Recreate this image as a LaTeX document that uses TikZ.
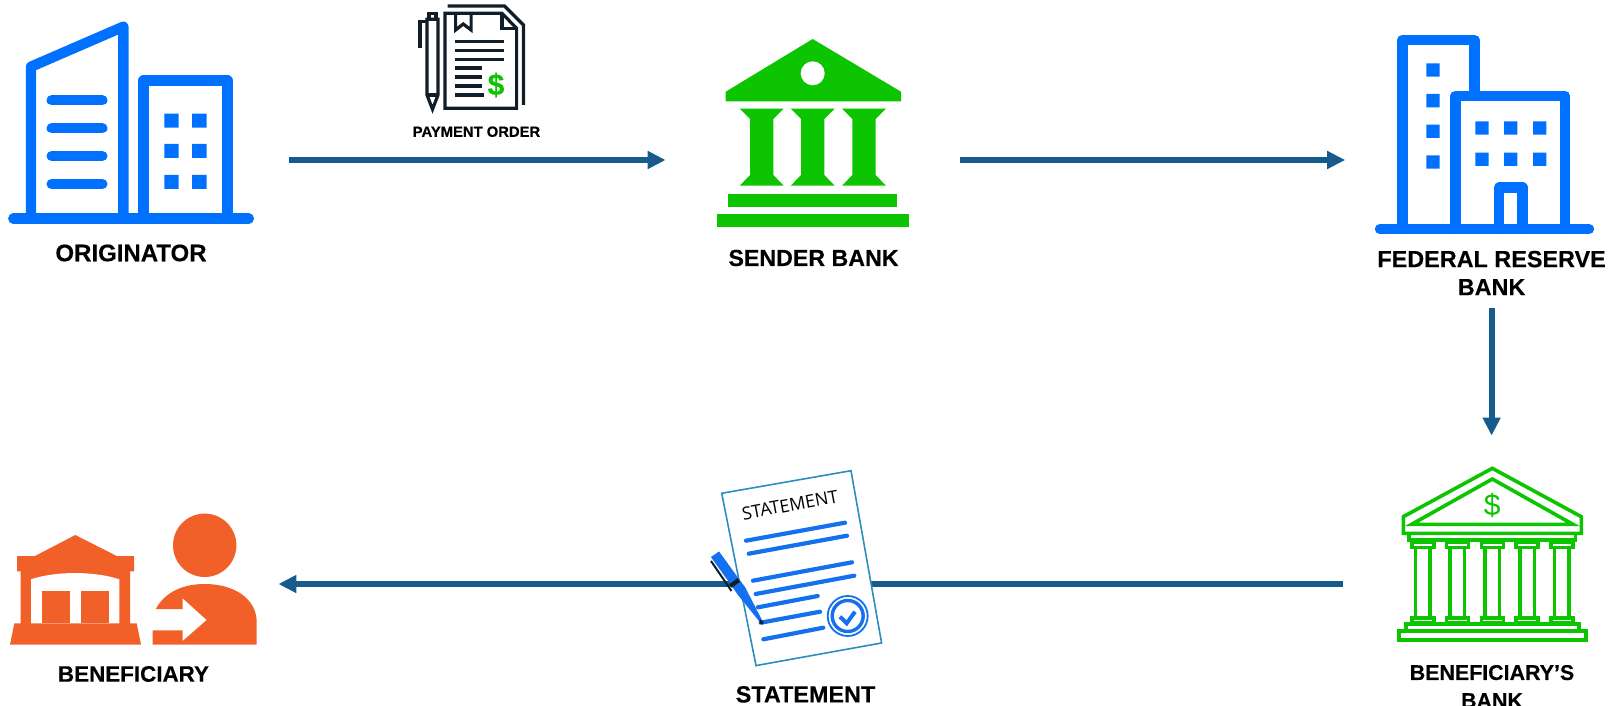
\documentclass[tikz,border=0pt]{standalone}
\usepackage{fontspec}
\setmainfont{Liberation Sans}[BoldFeatures={FakeBold=0.3}]
\newfontfamily\paperfont{Open Sans}
\usetikzlibrary{arrows.meta}
\definecolor{bldgblue}{HTML}{0070FF}
\definecolor{bankgreen}{HTML}{0CC400}
\definecolor{arrowblue}{HTML}{175A8C}
\definecolor{benorange}{HTML}{F26029}
\definecolor{inkdark}{HTML}{0F1E28}
\definecolor{paperedge}{HTML}{2A8FBF}
\definecolor{paperline}{HTML}{1470EE}
\begin{document}
\begin{tikzpicture}
		[x=0.5pt,y=-0.5pt,
		hub/.style ={inner sep=0pt, minimum width=#1, minimum height=148pt},
		link/.style ={draw=arrowblue, line width=3pt, -{Triangle[length=9pt,width=8.5pt]}},
		biglabel/.style ={font=\bfseries\fontsize{#1}{14}\selectfont, text=black, align=center, inner sep=0pt},
		smalllabel/.style ={font=\bfseries\fontsize{7.4}{8}\selectfont, text=black, inner sep=0pt},
		bldg/.style ={draw=bldgblue, line width=5.2pt, line join=round, line cap=round},
		ink/.style ={draw=inkdark, line width=1.6pt},
		outline/.style ={draw=bankgreen, line width=1.8pt},
		sheet/.style ={draw=paperline, line width=2.1pt, line cap=round},
		dollar/.style ={font=\fontsize{15}{15}\selectfont, text=bankgreen, inner sep=0pt},
		]
		\useasboundingbox (0,0) rectangle (1613,706);

		\node[hub=158pt] (originator) at (131,160) {};
		\node[hub=147pt] (sender) at (813,160) {};
		\node[hub=146pt] (federal) at (1491.6,160) {};
		\node[hub=148pt] (benbank) at (1491.6,584) {};
		\node[hub=146pt] (beneficiary) at (132,584) {};

		\draw[link] (originator) -- (sender);
		\draw[link] (sender) -- (federal);
		\draw[link] (federal) -- (benbank);
		\draw[link] (benbank) -- (beneficiary);

		\draw[bldg] (13.3,218.7) -- (248.8,218.7);
		\draw[bldg] (31,218.7) -- (31,66.7) -- (123.3,26.7) -- (123.3,218.7);
		\draw[bldg] (143.6,218.7) -- (143.6,80.7) -- (227.3,80.7) -- (227.3,218.7);
		\draw[bldg] (51.7,100.3) -- (102.3,100.3);
		\draw[bldg] (51.7,128.3) -- (102.3,128.3);
		\draw[bldg] (51.7,156) -- (102.3,156);
		\draw[bldg] (51.7,184) -- (102.3,184);
		\fill[bldgblue] (164.3,113.7) rectangle (178.7,127.7) (192.2,113.7) rectangle (206.6,127.7);
		\fill[bldgblue] (164.3,144) rectangle (178.7,158) (192.2,144) rectangle (206.6,158);
		\fill[bldgblue] (164.3,175) rectangle (178.7,189) (192.2,175) rectangle (206.6,189);
		\node[biglabel=12] (originatorlabel) at (131,253) {ORIGINATOR};

		\draw[ink] (445,108.3) -- (445,13.3) -- (502,13.3) -- (516.6,28.3) -- (516.6,108.3) -- cycle;
		\draw[ink] (502,13.3) -- (502,28.3) -- (516.6,28.3);
		\draw[ink] (447.7,6) -- (504.5,6) -- (523.5,25) -- (523.5,105);
		\draw[ink] (455.6,13.3) -- (455.6,30) -- (463.2,24) -- (471.1,30) -- (471.1,13.3);
		\draw[ink] (454.6,41.3) -- (503.8,41.3);
		\draw[ink] (454.6,50.3) -- (503.8,50.3);
		\draw[ink] (454.6,59.3) -- (503.8,59.3);
		\draw[ink] (454.6,68) -- (482,68);
		\draw[ink] (454.6,77) -- (482,77);
		\draw[ink] (454.6,86) -- (482,86);
		\draw[ink] (454.6,95) -- (484,95);
		\node[dollar, font=\bfseries\fontsize{15}{15}\selectfont] (orderdollar) at (496,85) {\$};
		\draw[ink] (427,19.3) -- (438,19.3) -- (438,95) -- (432.5,109.3) -- (427,95) -- cycle;
		\draw[ink] (429,19.3) -- (429,13.3) -- (436,13.3) -- (436,19.3);
		\draw[ink] (427,95) -- (438,95);
		\draw[ink] (427,21.7) -- (420,21.7) -- (420,48.3);
		\node[smalllabel] (orderlabel) at (476.5,131.7) {PAYMENT ORDER};

		\fill[bankgreen] (725.7,101.3) -- (725.7,91.7) -- (812.7,39) -- (901,91.7) -- (901,101.3) -- cycle;
		\fill[white] (812.7,73.3) circle (12);
		\fill[bankgreen] (739.7,108.7) -- (783.7,108.7) -- (773.4,119) -- (773.4,175) -- (783.7,185.7) -- (739.7,185.7) -- (750,175) -- (750,119) -- cycle;
		\fill[bankgreen] (790.7,108.7) -- (834.7,108.7) -- (824.4,119) -- (824.4,175) -- (834.7,185.7) -- (790.7,185.7) -- (801,175) -- (801,119) -- cycle;
		\fill[bankgreen] (842,108.7) -- (886,108.7) -- (875.7,119) -- (875.7,175) -- (886,185.7) -- (842,185.7) -- (852.3,175) -- (852.3,119) -- cycle;
		\fill[bankgreen] (728,194) rectangle (897.3,206.7);
		\fill[bankgreen] (716.7,214) rectangle (908.7,226.7);
		\node[biglabel=11.6] (senderlabel) at (813.5,258) {SENDER BANK};

		\draw[bldg] (1380,229) -- (1589,229);
		\draw[bldg] (1402.3,229) -- (1402.3,40) -- (1474.3,40) -- (1474.3,96);
		\draw[bldg] (1455.3,229) -- (1455.3,96) -- (1565,96) -- (1565,229);
		\draw[bldg] (1499,229) -- (1499,187.7) -- (1522.3,187.7) -- (1522.3,229);
		\fill[bldgblue] (1426.3,63.3) rectangle (1439.7,76.7) (1426.3,94) rectangle (1439.7,107.3);
		\fill[bldgblue] (1426.3,124.7) rectangle (1439.7,138) (1426.3,155.3) rectangle (1439.7,168.7);
		\fill[bldgblue] (1475.3,121.3) rectangle (1488.7,134.7) (1504,121.3) rectangle (1517.3,134.7) (1533,121.3) rectangle (1546.3,134.7);
		\fill[bldgblue] (1475.3,152.7) rectangle (1488.7,166) (1504,152.7) rectangle (1517.3,166) (1533,152.7) rectangle (1546.3,166);
		\node[biglabel=11.7] (federallabel) at (1491.6,273) {FEDERAL RESERVE\\BANK};

		\draw[outline] (1403.3,533.3) -- (1403.3,516.7) -- (1492.3,468.3) -- (1581.3,516.7) -- (1581.3,533.3) -- cycle;
		\draw[outline] (1411.7,524.3) -- (1492.3,479) -- (1572.9,524.3) -- cycle;
		\draw[outline] (1409,533.3) rectangle (1575.6,540);
		\draw[outline] (1411.7,542.3) rectangle (1433.7,547.3) (1415.4,547.3) rectangle (1430,617.7) (1411.7,617.7) rectangle (1433.7,623);
		\draw[outline] (1446.3,542.3) rectangle (1468.3,547.3) (1450,547.3) rectangle (1464.6,617.7) (1446.3,617.7) rectangle (1468.3,623);
		\draw[outline] (1481.3,542.3) rectangle (1503.3,547.3) (1485,547.3) rectangle (1499.6,617.7) (1481.3,617.7) rectangle (1503.3,623);
		\draw[outline] (1516,542.3) rectangle (1538,547.3) (1519.7,547.3) rectangle (1534.3,617.7) (1516,617.7) rectangle (1538,623);
		\draw[outline] (1550.7,542.3) rectangle (1572.7,547.3) (1554.4,547.3) rectangle (1569,617.7) (1550.7,617.7) rectangle (1572.7,623);
		\draw[outline] (1405.7,624) rectangle (1578.9,630.7);
		\draw[outline] (1398.7,631) rectangle (1585.9,640);
		\node[dollar] (bankdollar) at (1492.3,505.7) {\$};
		\node[biglabel=10.7] (benbanklabel) at (1492,686.5) {BENEFICIARY’S\\BANK};

		\draw[draw=paperedge, fill=white, line width=.8pt] (721.7,493.3) -- (851,470.7) -- (881.6,643) -- (756,665.6) -- cycle;
		\node[font=\paperfont\fontsize{8.9}{10}\selectfont, text=black, rotate=10.5, inner sep=0pt] (papertitle) at (790,505) {STATEMENT};
		\draw[sheet] (746,540.7) -- (845,522.7);
		\draw[sheet] (748.7,553.7) -- (847,535.7);
		\draw[sheet] (753,580.7) -- (852,562.3);
		\draw[sheet] (755.7,594) -- (854.3,575.7);
		\draw[sheet] (758,607.3) -- (817.7,596);
		\draw[sheet] (760.7,622.7) -- (820,611.7);
		\draw[sheet] (763.3,639.3) -- (823.3,627.7);
		\draw[paperline, line width=.9pt] (847.7,616) circle (20);
		\draw[paperline, line width=1.7pt] (847.7,616) circle (15.5);
		\draw[paperline, line width=2pt] (840,616.7) -- (846.7,623.3) -- (855,611.7);
		\draw[inkdark, line width=1pt] (711,561) -- (731.5,591);
		\fill[paperline] (710.9,557) -- (719.1,551.5) -- (739.1,579.2) -- (745,587) -- (763,622) -- (761,623.5) -- (738,595) -- (730.9,584.8) -- cycle;
		\draw[inkdark, line width=2.2pt] (730.5,586) -- (738.8,580);
		\fill[inkdark] (759.5,619.5) -- (763.5,621.5) -- (763,624.5) -- (759.5,623.5) -- cycle;
		\node[biglabel=11.7] (statementlabel) at (805.5,694.4) {STATEMENT};

		\fill[benorange] (35,556) -- (75.3,535) -- (116.7,556) -- (134,556) -- (134,571.3) -- (130,571.3) -- (130,623.3) -- (136.7,623.3) -- (141,644.7) -- (10,644.7) -- (14.3,623.3) -- (20.7,623.3) -- (20.7,571.3) -- (17,571.3) -- (17,556) -- cycle;
		\fill[white] (31,623.3) -- (31,579.3) .. controls (55,571) and (95,571) .. (119.3,579.3) -- (119.3,623.3) -- cycle;
		\fill[benorange] (41.7,590.7) rectangle (70.3,623.3);
		\fill[benorange] (80.7,590.7) rectangle (109.3,623.3);
		\fill[benorange] (204.7,545.3) circle (31.7);
		\fill[benorange] (155.7,609) .. controls (165,592) and (183,584) .. (204.7,584) .. controls (236,584) and (256.7,600) .. (256.7,622) -- (256.7,644.7) -- (152.7,644.7) -- (152.7,630.3) -- (182.7,630.3) -- (182.7,641) -- (206.7,620) -- (182.7,598.3) -- (182.7,609) -- cycle;
		\node[biglabel=11.2] (beneficiarylabel) at (133.5,674) {BENEFICIARY};
	\end{tikzpicture}
\end{document}
